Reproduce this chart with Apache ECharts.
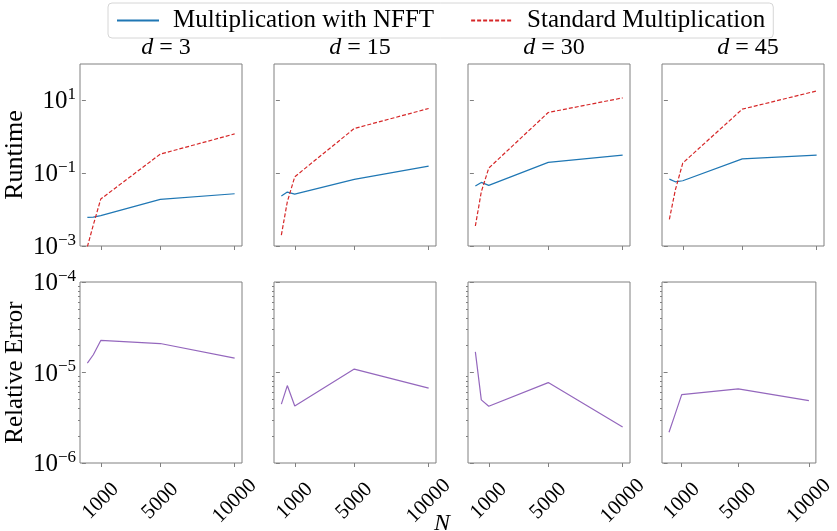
<!DOCTYPE html>
<html>
<head>
<meta charset="utf-8">
<script src="https://cdn.jsdelivr.net/npm/echarts@6/dist/echarts.min.js"></script>
<style>
  html, body { margin: 0; padding: 0; background: #fff; }
  #main { width: 837px; height: 531px; }
</style>
</head>
<body>
<div id="main"></div>
<script>
// x values (N) and the four problem sizes
const nValues = [100, 500, 1000, 5000, 10000];
const dims = [3, 15, 30, 45];
const xTicks = [1000, 5000, 10000];

// runtime, multiplication with NFFT
const nfftD3 = [0.0061, 0.0062, 0.0068, 0.0191, 0.0273];
const nfftD15 = [0.0236, 0.0303, 0.0267, 0.0675, 0.157];
const nfftD30 = [0.0443, 0.0558, 0.0462, 0.198, 0.314];
const nfftD45 = [0.0689, 0.058, 0.062, 0.248, 0.314];

// runtime, standard multiplication
const stdD3 = [0.00095, 0.0038, 0.0195, 0.334, 1.2];
const stdD15 = [0.002, 0.0164, 0.0798, 1.69, 5.99];
const stdD30 = [0.00354, 0.031, 0.138, 4.66, 11.7];
const stdD45 = [0.0054, 0.0344, 0.19, 5.74, 18.2];

// relative error
const errD3 = [1.27e-5, 1.57e-5, 2.26e-5, 2.09e-5, 1.44e-5];
const errD15 = [4.47e-6, 7.17e-6, 4.27e-6, 1.09e-5, 6.71e-6];
const errD30 = [1.69e-5, 4.98e-6, 4.24e-6, 7.74e-6, 2.5e-6];
const errD45 = [2.19e-6, 3.34e-6, 5.7e-6, 6.59e-6, 4.9e-6];

const runtimeTicks = [1e-3, 1e-1, 1e1];
const errorTicks = [1e-6, 1e-5, 1e-4];
const errorMinorTicks = [2e-6, 3e-6, 4e-6, 5e-6, 6e-6, 7e-6, 8e-6, 9e-6,
  2e-5, 3e-5, 4e-5, 5e-5, 6e-5, 7e-5, 8e-5, 9e-5];

const nfftAll = [nfftD3, nfftD15, nfftD30, nfftD45];
const stdAll = [stdD3, stdD15, stdD30, stdD45];
const errAll = [errD3, errD15, errD30, errD45];

const FONT = "Liberation Serif";
const GREY = "#808080";
const panelLefts = [80, 274, 468, 662];
const panelWidth = 162;

function pairs(ys) {
  return nValues.map((n, i) => [n, ys[i]]);
}

function powLabel(val) {
  const e = Math.round(Math.log10(val));
  const s = e < 0 ? "\u2212" + Math.abs(e) : String(e);
  return "{b|10}{s|" + s + "}";
}

const powRich = {
  b: { fontFamily: FONT, fontSize: 25, color: "#000", lineHeight: 28, verticalAlign: "bottom" },
  s: { fontFamily: FONT, fontSize: 17, color: "#000", lineHeight: 28, verticalAlign: "top", padding: [0, 0, 10, 0] }
};

var chartDom = document.getElementById("main");
var myChart = echarts.init(chartDom);

const grids = [];
const xAxes = [];
const yAxes = [];
const series = [];
const titles = [];

function yLabel(show, ticks) {
  return {
    show: show,
    customValues: ticks,
    margin: 4,
    fontFamily: FONT,
    fontSize: 25,
    color: "#000",
    formatter: powLabel,
    rich: powRich
  };
}

dims.forEach((d, k) => {
  // 上排 运行时间
  grids.push({
    left: panelLefts[k], top: 64, width: panelWidth, height: 182,
    show: true, borderColor: GREY, borderWidth: 1
  });
  // 下排 相对误差
  grids.push({
    left: panelLefts[k], top: 282, width: panelWidth, height: 181,
    show: true, borderColor: GREY, borderWidth: 1
  });

  const gTop = k * 2;
  const gBot = k * 2 + 1;

  [gTop, gBot].forEach((g) => {
    xAxes.push({
      type: "value",
      gridIndex: g,
      min: -395,
      max: 10495,
      axisLine: { show: false },
      splitLine: { show: false },
      axisTick: {
        show: true, length: 4, customValues: xTicks,
        lineStyle: { color: GREY }
      },
      axisLabel: {
        show: g === gBot,
        customValues: xTicks,
        formatter: (v) => String(v),
        rotate: 45,
        align: "center",
        verticalAlign: "middle",
        margin: 38,
        fontFamily: FONT,
        fontSize: 21,
        color: "#000"
      }
    });
  });

  yAxes.push({
    type: "log",
    logBase: 10,
    gridIndex: gTop,
    min: 1e-3,
    max: 1e2,
    name: k === 0 ? "Runtime" : "",
    nameLocation: "middle",
    nameGap: 52,
    nameTextStyle: { fontFamily: FONT, fontSize: 26, color: "#000" },
    axisLine: { show: false },
    splitLine: { show: false },
    axisTick: {
      show: true, length: 4, customValues: runtimeTicks,
      lineStyle: { color: GREY }
    },
    axisLabel: yLabel(k === 0, runtimeTicks)
  });
  yAxes.push({
    type: "log",
    logBase: 10,
    gridIndex: gBot,
    min: 1e-6,
    max: 1e-4,
    name: k === 0 ? "Relative Error" : "",
    nameLocation: "middle",
    nameGap: 52,
    nameTextStyle: { fontFamily: FONT, fontSize: 25, color: "#000" },
    axisLine: { show: false },
    splitLine: { show: false },
    axisTick: {
      show: true, length: 4, customValues: errorTicks,
      lineStyle: { color: GREY }
    },
    axisLabel: yLabel(k === 0, errorTicks)
  });
  // 次刻度
  yAxes.push({
    type: "log",
    logBase: 10,
    gridIndex: gBot,
    position: "left",
    min: 1e-6,
    max: 1e-4,
    axisLine: { show: false },
    splitLine: { show: false },
    axisLabel: { show: false },
    axisTick: {
      show: true, length: 2, customValues: errorMinorTicks,
      lineStyle: { color: GREY }
    }
  });

  const yTop = k * 3;
  const yBot = k * 3 + 1;

  series.push({
    name: "Multiplication with NFFT",
    type: "line",
    xAxisIndex: gTop,
    yAxisIndex: yTop,
    data: pairs(nfftAll[k]),
    symbol: "none",
    lineStyle: { color: "#1f77b4", width: 1.2 },
    itemStyle: { color: "#1f77b4" },
    clip: true
  });
  series.push({
    name: "Standard Multiplication",
    type: "line",
    xAxisIndex: gTop,
    yAxisIndex: yTop,
    data: pairs(stdAll[k]),
    symbol: "none",
    lineStyle: { color: "#d62728", width: 1.2, type: [4, 2] },
    itemStyle: { color: "#d62728" },
    clip: true
  });
  series.push({
    name: "Relative Error",
    type: "line",
    xAxisIndex: gBot,
    yAxisIndex: yBot,
    data: pairs(errAll[k]),
    symbol: "none",
    lineStyle: { color: "#9467bd", width: 1.2 },
    itemStyle: { color: "#9467bd" },
    clip: true
  });

  titles.push({
    text: "{i|d} = " + d,
    left: panelLefts[k] + panelWidth / 2,
    top: 31,
    textAlign: "center",
    textStyle: {
      fontFamily: FONT, fontSize: 24, color: "#000", fontWeight: "normal",
      rich: {
        i: { fontFamily: FONT, fontSize: 24, fontStyle: "italic", color: "#000" }
      }
    }
  });
});

titles.push({
  text: "N",
  left: 437,
  top: 507,
  textAlign: "center",
  textStyle: { fontFamily: FONT, fontSize: 24, fontStyle: "italic", fontWeight: "normal", color: "#000" }
});

const option = {
  animation: false,
  backgroundColor: "#fff",
  title: titles,
  legend: {
    data: ["Multiplication with NFFT", "Standard Multiplication"],
    top: 3,
    left: 108,
    itemGap: 36,
    itemWidth: 42,
    itemHeight: 12,
    padding: [5, 8, 5, 8],
    borderColor: "#d6d6d6",
    borderWidth: 1,
    borderRadius: 4,
    itemStyle: { opacity: 0 },
    textStyle: { fontFamily: FONT, fontSize: 25, color: "#000", padding: [0, 0, 0, 9] }
  },
  grid: grids,
  xAxis: xAxes,
  yAxis: yAxes,
  series: series
};

option && myChart.setOption(option);
</script>
</body>
</html>
